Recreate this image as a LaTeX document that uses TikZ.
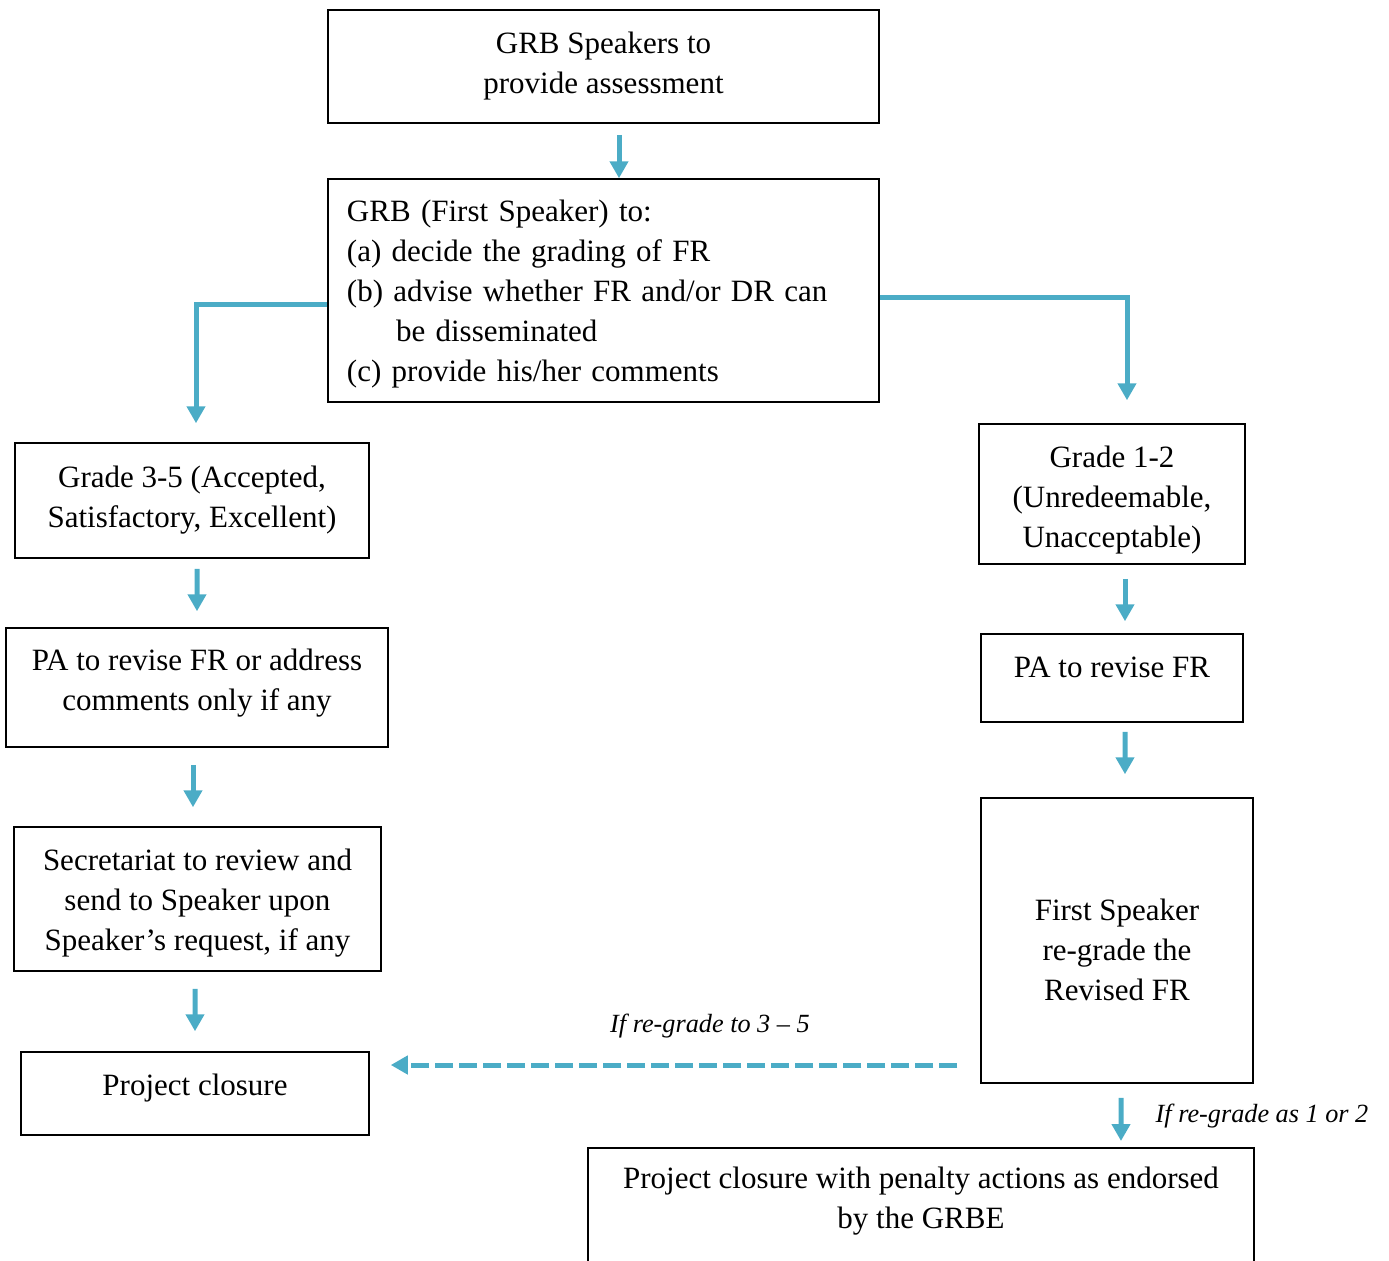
\documentclass[tikz,border=0pt]{standalone}
\usepackage{fontspec}
\setmainfont{Liberation Serif}
\usetikzlibrary{positioning,arrows.meta,calc}
\definecolor{flowblue}{RGB}{75,172,198}
% struts to nudge text inside a box
\newcommand{\padtop}[1]{\rule{0pt}{#1}}
\newcommand{\padbot}[1]{\rule[-#1]{0pt}{#1}}

\begin{document}
\begin{tikzpicture}[x=0.4pt,y=-0.4pt,
  box/.style={draw, line width=0.6pt, align=center, inner sep=0pt,
    font=\fontsize{12.4}{16}\selectfont},
  flow/.style={draw=flowblue, line width=2pt,
    -{Triangle[length=6.8pt,width=7.2pt]}},
  dashflow/.style={flow, dash pattern=on 7.2pt off 2.4pt},
  cond/.style={font=\fontsize{10.5}{12}\selectfont\itshape}]
  \useasboundingbox (0,0) rectangle (1389,1261);

  \node[box, minimum width=220.4pt, minimum height=45.2pt] (speakers) at (603.5,66.5)
    {GRB Speakers to\\provide assessment};
  \node[box, align=left, text width=205.2pt, inner xsep=7.6pt, minimum height=89.2pt] (grb) at (603.5,290.5)
    {\padtop{11.8pt}GRB (First Speaker) to:\\
     (a) decide the grading of FR\\
     (b) advise whether FR and/or DR can\\
     \hspace*{19.6pt}be disseminated\\
     (c) provide his/her comments};

  % left branch
  \node[box, minimum width=141.6pt, minimum height=46pt] (gradeok) at (192,500.5)
    {Grade 3-5 (Accepted,\\Satisfactory, Excellent)};
  \node[box, minimum width=152.8pt, minimum height=47.6pt] (revise) at (197,687.5)
    {PA to revise FR or address\\comments only if any\padbot{5.9pt}};
  \node[box, minimum width=146.8pt, minimum height=57.6pt] (secretariat) at (197.5,899)
    {\padtop{11.7pt}Secretariat to review and\\send to Speaker upon\\Speaker's request, if any};
  \node[box, minimum width=139.2pt, minimum height=33.2pt] (closure) at (195,1093.5)
    {Project closure\padbot{6.7pt}};

  % right branch
  \node[box, minimum width=106.4pt, minimum height=56pt] (gradebad) at (1112,494)
    {\padtop{13.3pt}Grade 1-2\\(Unredeemable,\\Unacceptable)};
  \node[box, minimum width=104.8pt, minimum height=35.2pt] (revisefr) at (1112,678)
    {PA to revise FR\padbot{8.8pt}};
  \node[box, minimum width=108.8pt, minimum height=114pt] (regrade) at (1117,940.5)
    {\padtop{16.5pt}First Speaker\\re-grade the\\Revised FR};
  \node[box, anchor=north, minimum width=266.4pt, inner ysep=7.6pt, text depth=40pt] (penalty) at (921,1147)
    {Project closure with penalty actions as endorsed\\by the GRBE};

  \node[cond] (uplabel) at (710,1026) {If re-grade to 3 -- 5};
  \node[cond] (downlabel) at (1262,1116) {If re-grade as 1 or 2};

  \draw[flow, shorten <=4.4pt] ([xshift=6.2pt]speakers.south) -- ([xshift=6.2pt]grb.north);
  \draw[flow, shorten >=7.6pt] ([yshift=-5.4pt]grb.west) -| ([xshift=1.6pt]gradeok.north);
  \draw[flow, shorten >=9.2pt] ([yshift=-2.6pt]grb.east) -| ([xshift=6pt]gradebad.north);

  \draw[flow, shorten <=4pt, shorten >=6.4pt] ([xshift=2pt]gradeok.south) -- (revise.north);
  \draw[flow, shorten <=6.8pt, shorten >=7.6pt] ([xshift=-1.6pt]revise.south) -- ([xshift=-1.8pt]secretariat.north);
  \draw[flow, shorten <=6.8pt, shorten >=8pt] ([xshift=-1pt]secretariat.south) -- (closure.north);

  \draw[flow, shorten <=5.6pt, shorten >=4.8pt] ([xshift=5.2pt]gradebad.south) -- ([xshift=5.2pt]revisefr.north);
  \draw[flow, shorten <=3.6pt, shorten >=9.2pt] ([xshift=5.2pt]revisefr.south) -- ([xshift=3.2pt]regrade.north);
  \draw[flow, shorten <=5.6pt, shorten >=2.4pt] ([xshift=1.6pt]regrade.south) -- ([xshift=80pt]penalty.north);

  \coordinate (back) at ([yshift=-49.8pt]regrade.west);
  \draw[dashflow, shorten <=9.2pt, shorten >=8.4pt] (back) -- (back -| closure.east);
\end{tikzpicture}
\end{document}
